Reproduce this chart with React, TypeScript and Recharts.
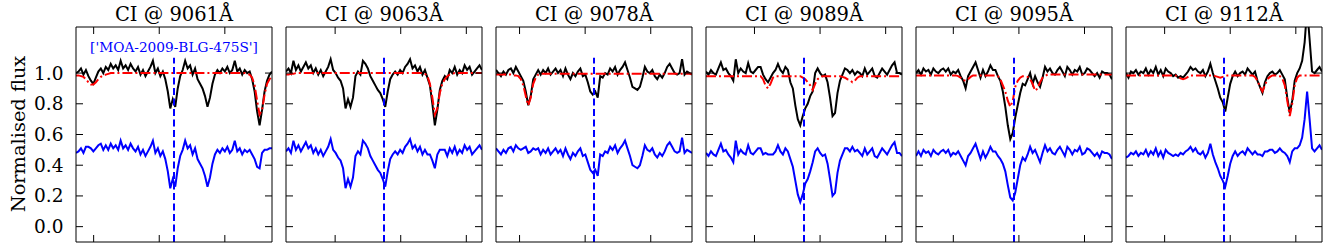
import { LineChart, Line, XAxis, YAxis, ReferenceLine } from "recharts";

// each window spans +-SPAN Angstrom around the line centre, sampled at N points
const SPAN = 2.988;
const N = 80;
const Y_DOMAIN: [number, number] = [-0.1, 1.3];
const Y_TICKS = [0, 0.2, 0.4, 0.6, 0.8, 1.0];

const titles = ["CI @ 9061Å", "CI @ 9063Å", "CI @ 9078Å", "CI @ 9089Å", "CI @ 9095Å", "CI @ 9112Å"];
const starName = "['MOA-2009-BLG-475S']";

// unlabelled wavelength ticks (offset from line centre, Angstrom)
const ticks9061 = [-2.45, -0.45, 1.55];
const ticks9063 = [-1.49, 0.51, 2.51];
const ticks9078 = [-2.27, -0.27, 1.73];
const ticks9089 = [-1.51, 0.49, 2.49];
const ticks9095 = [-1.85, 0.15, 2.15];
const ticks9112 = [-1.81, 0.19, 2.19];

// observed (black), telluric model (red), corrected and offset (blue)
const obs9061 = [
  1.00, 1.01, 1.03, 0.99, 1.02, 0.98, 0.95, 0.93, 0.97, 1.01,
  1.03, 1.00, 1.04, 1.02, 1.06, 1.03, 1.05, 1.02, 1.08, 1.03,
  1.05, 1.02, 1.06, 1.03, 1.01, 1.04, 0.99, 1.02, 0.98, 1.01,
  1.04, 1.08, 1.00, 1.03, 0.98, 1.01, 0.96, 0.88, 0.77, 0.83,
  0.78, 0.90, 0.98, 1.02, 1.08, 1.03, 1.05, 0.99, 1.03, 0.96,
  0.93, 0.90, 0.85, 0.78, 0.84, 0.93, 0.99, 1.02, 1.00, 1.03,
  1.01, 1.04, 1.00, 1.02, 1.08, 1.01, 1.03, 0.99, 1.02, 1.00,
  1.01, 0.96, 0.88, 0.75, 0.66, 0.76, 0.88, 0.95, 0.99, 1.01,
];
const model9061 = [
  0.985, 0.985, 0.98, 0.975, 0.96, 0.94, 0.925, 0.925, 0.94, 0.96,
  0.975, 0.985, 0.99, 0.995, 1, 1, 1, 1, 1, 1,
  1, 1, 1, 1, 1, 1, 1, 1, 1, 1,
  1, 1, 1, 1, 1, 1, 1, 1, 1, 1,
  1, 1, 1, 1, 1, 1, 1, 1, 1, 1,
  1, 1, 1, 1, 1, 1, 1, 1, 1, 1,
  1, 1, 1, 1, 1, 1, 1, 1, 1, 0.995,
  0.99, 0.97, 0.92, 0.82, 0.73, 0.76, 0.86, 0.93, 0.96, 0.98,
];
const corr9061 = [
  0.48, 0.49, 0.51, 0.48, 0.52, 0.52, 0.51, 0.49, 0.51, 0.53,
  0.54, 0.50, 0.53, 0.50, 0.54, 0.51, 0.53, 0.50, 0.56, 0.51,
  0.53, 0.50, 0.54, 0.51, 0.49, 0.52, 0.47, 0.50, 0.46, 0.49,
  0.52, 0.56, 0.48, 0.51, 0.46, 0.49, 0.44, 0.36, 0.25, 0.31,
  0.26, 0.38, 0.46, 0.50, 0.56, 0.51, 0.53, 0.47, 0.51, 0.44,
  0.41, 0.38, 0.33, 0.26, 0.32, 0.41, 0.47, 0.50, 0.48, 0.51,
  0.49, 0.52, 0.48, 0.50, 0.56, 0.49, 0.51, 0.47, 0.50, 0.485,
  0.50, 0.47, 0.44, 0.39, 0.38, 0.48, 0.50, 0.50, 0.51, 0.51,
];

const obs9063 = [
  1.01, 1.03, 1.00, 1.08, 1.02, 1.05, 1.01, 1.04, 1.07, 1.03,
  1.05, 1.00, 1.03, 0.99, 1.02, 0.98, 1.01, 1.04, 1.09, 1.02,
  1.00, 0.97, 0.95, 0.90, 0.77, 0.83, 0.78, 0.84, 0.98, 1.01,
  0.99, 1.08, 1.06, 1.03, 0.98, 0.95, 0.92, 0.89, 0.87, 0.83,
  0.78, 0.88, 0.96, 0.99, 1.01, 0.99, 1.02, 1.00, 1.04, 1.06,
  1.09, 1.03, 1.05, 1.01, 1.04, 0.99, 1.02, 0.97, 0.92, 0.80,
  0.66, 0.76, 0.89, 0.95, 0.98, 0.96, 1.02, 1.00, 1.04, 0.99,
  1.02, 1.00, 1.05, 1.02, 1.04, 0.99, 1.01, 1.03, 1.05, 1.02,
];
const model9063 = [
  0.99, 0.99, 0.995, 0.995, 1, 1, 1, 1, 1, 1,
  1, 1, 1, 1, 1, 1, 1, 1, 1, 1,
  1, 1, 1, 1, 1, 1, 1, 1, 1, 1,
  1, 1, 1, 1, 1, 1, 1, 1, 1, 1,
  1, 1, 1, 1, 1, 1, 1, 1, 1, 1,
  1, 1, 1, 1, 1, 1, 0.995, 0.98, 0.93, 0.84,
  0.73, 0.77, 0.87, 0.93, 0.96, 0.98, 0.99, 0.995, 1, 1,
  1, 1, 1, 1, 1, 1, 1, 1, 1, 1,
];
const corr9063 = [
  0.49, 0.51, 0.48, 0.56, 0.50, 0.53, 0.49, 0.52, 0.55, 0.51,
  0.53, 0.48, 0.51, 0.47, 0.50, 0.46, 0.49, 0.52, 0.57, 0.50,
  0.48, 0.45, 0.43, 0.38, 0.25, 0.31, 0.26, 0.32, 0.46, 0.49,
  0.47, 0.56, 0.54, 0.51, 0.46, 0.43, 0.40, 0.37, 0.35, 0.31,
  0.26, 0.36, 0.44, 0.47, 0.49, 0.47, 0.50, 0.48, 0.52, 0.54,
  0.57, 0.51, 0.53, 0.49, 0.52, 0.47, 0.50, 0.47, 0.47, 0.43,
  0.38, 0.47, 0.50, 0.50, 0.50, 0.46, 0.51, 0.48, 0.52, 0.47,
  0.50, 0.48, 0.53, 0.50, 0.52, 0.47, 0.49, 0.51, 0.53, 0.50,
];

const obs9078 = [
  1.02, 1.00, 0.98, 1.01, 0.99, 1.02, 1.03, 1.00, 1.04, 1.01,
  0.98, 0.95, 0.88, 0.79, 0.85, 0.96, 0.99, 1.02, 0.99, 1.02,
  1.00, 1.03, 0.99, 1.01, 1.03, 1.00, 1.02, 0.98, 1.03, 0.99,
  0.96, 1.00, 0.98, 1.01, 1.03, 0.98, 0.99, 0.94, 0.88, 0.86,
  0.88, 0.84, 0.98, 0.97, 1.00, 0.99, 1.03, 1.01, 1.04, 0.99,
  1.02, 1.04, 1.07, 1.02, 0.97, 0.91, 0.90, 0.89, 0.91, 0.97,
  1.04, 1.01, 1.00, 1.02, 0.98, 0.96, 0.99, 0.97, 1.00, 1.04,
  1.06, 1.03, 1.00, 0.99, 1.00, 1.09, 0.99, 1.01, 1.00, 0.99,
];
const model9078 = [
  0.99, 0.99, 0.99, 0.99, 0.99, 0.99, 0.99, 0.985, 0.985, 0.98,
  0.96, 0.92, 0.85, 0.79, 0.84, 0.93, 0.97, 0.99, 0.995, 0.995,
  0.995, 0.995, 0.995, 0.995, 0.995, 0.995, 0.995, 0.995, 0.995, 0.995,
  0.995, 0.995, 0.995, 0.995, 0.995, 0.995, 0.995, 0.995, 0.995, 0.995,
  0.995, 0.995, 0.995, 0.995, 0.995, 0.995, 0.995, 0.995, 0.995, 0.995,
  0.995, 0.995, 0.995, 0.995, 0.995, 0.995, 0.995, 0.995, 0.995, 0.995,
  0.995, 0.995, 0.995, 0.995, 0.995, 0.995, 0.995, 0.995, 0.995, 0.995,
  0.995, 0.995, 0.995, 0.995, 0.995, 0.995, 0.995, 0.995, 0.995, 0.995,
];
const corr9078 = [
  0.51, 0.49, 0.47, 0.50, 0.48, 0.51, 0.52, 0.49, 0.53, 0.51,
  0.50, 0.51, 0.52, 0.48, 0.49, 0.51, 0.50, 0.51, 0.47, 0.50,
  0.48, 0.51, 0.47, 0.49, 0.51, 0.48, 0.50, 0.46, 0.51, 0.47,
  0.44, 0.48, 0.46, 0.49, 0.51, 0.46, 0.47, 0.42, 0.37, 0.35,
  0.37, 0.33, 0.47, 0.46, 0.49, 0.48, 0.52, 0.50, 0.53, 0.48,
  0.51, 0.53, 0.56, 0.51, 0.46, 0.40, 0.39, 0.38, 0.40, 0.46,
  0.53, 0.50, 0.49, 0.51, 0.47, 0.45, 0.48, 0.46, 0.49, 0.53,
  0.55, 0.52, 0.49, 0.48, 0.49, 0.58, 0.48, 0.50, 0.49, 0.48,
];

const obs9089 = [
  1.01, 0.99, 1.02, 1.00, 0.99, 1.03, 1.07, 1.02, 1.03, 1.00,
  0.98, 0.95, 1.09, 1.00, 1.03, 1.01, 1.00, 1.065, 1.01, 1.00,
  1.02, 1.04, 1.04, 0.99, 0.96, 0.94, 0.97, 1.00, 1.02, 1.06,
  1.02, 1.00, 1.04, 1.02, 0.94, 0.90, 0.79, 0.70, 0.66, 0.72,
  0.77, 0.80, 0.85, 0.88, 1.00, 1.03, 1.00, 0.98, 0.99, 0.94,
  0.84, 0.72, 0.74, 0.87, 0.95, 0.99, 1.03, 1.02, 1.00, 1.02,
  0.99, 1.01, 1.00, 0.98, 1.03, 0.99, 1.01, 1.03, 0.98, 0.97,
  1.00, 1.03, 1.01, 0.99, 1.02, 1.05, 1.07, 1.00, 1.00, 0.99,
];
const model9089 = [
  0.98, 0.98, 0.98, 0.98, 0.98, 0.98, 0.98, 0.98, 0.98, 0.98,
  0.98, 0.98, 0.98, 0.98, 0.98, 0.98, 0.98, 0.98, 0.98, 0.98,
  0.98, 0.98, 0.98, 0.96, 0.92, 0.90, 0.93, 0.97, 0.98, 0.98,
  0.98, 0.98, 0.98, 0.98, 0.98, 0.98, 0.98, 0.98, 0.98, 0.97,
  0.96, 0.94, 0.92, 0.89, 0.93, 0.96, 0.975, 0.98, 0.98, 0.98,
  0.98, 0.98, 0.98, 0.98, 0.98, 0.975, 0.97, 0.96, 0.955, 0.94,
  0.95, 0.97, 0.98, 0.98, 0.98, 0.98, 0.98, 0.98, 0.98, 0.98,
  0.98, 0.98, 0.98, 0.98, 0.98, 0.98, 0.98, 0.98, 0.98, 0.98,
];
const corr9089 = [
  0.48, 0.46, 0.49, 0.47, 0.46, 0.50, 0.54, 0.49, 0.50, 0.47,
  0.45, 0.42, 0.56, 0.47, 0.50, 0.48, 0.47, 0.53, 0.48, 0.47,
  0.49, 0.51, 0.51, 0.47, 0.48, 0.47, 0.47, 0.47, 0.49, 0.53,
  0.49, 0.47, 0.51, 0.49, 0.44, 0.39, 0.30, 0.21, 0.16, 0.21,
  0.28, 0.31, 0.36, 0.42, 0.49, 0.51, 0.48, 0.46, 0.47, 0.41,
  0.31, 0.20, 0.22, 0.35, 0.43, 0.47, 0.51, 0.51, 0.49, 0.52,
  0.49, 0.50, 0.48, 0.46, 0.51, 0.47, 0.49, 0.51, 0.46, 0.45,
  0.48, 0.51, 0.49, 0.47, 0.50, 0.53, 0.55, 0.48, 0.48, 0.46,
];

const obs9095 = [
  1.00, 1.02, 0.99, 1.03, 1.01, 1.02, 0.99, 1.03, 1.01, 1.00,
  1.02, 1.03, 1.01, 1.03, 0.99, 1.01, 1.00, 1.02, 0.98, 0.95,
  0.90, 0.98, 1.01, 1.04, 1.07, 1.02, 0.97, 1.02, 0.98, 1.01,
  1.05, 1.02, 1.02, 0.98, 0.95, 0.88, 0.78, 0.66, 0.57, 0.61,
  0.71, 0.79, 0.87, 0.93, 0.92, 0.96, 1.00, 0.93, 0.98, 0.94,
  0.91, 0.97, 1.04, 1.01, 1.03, 1.00, 0.99, 1.02, 1.04, 1.01,
  0.98, 1.04, 1.02, 0.99, 1.02, 1.01, 1.04, 0.99, 1.00, 1.03,
  1.02, 1.00, 0.98, 1.00, 0.97, 1.01, 1.00, 1.00, 0.99, 0.96,
];
const model9095 = [
  0.985, 0.985, 0.985, 0.985, 0.985, 0.985, 0.985, 0.985, 0.985, 0.985,
  0.985, 0.985, 0.985, 0.985, 0.985, 0.985, 0.985, 0.98, 0.97, 0.955,
  0.95, 0.96, 0.975, 0.985, 0.985, 0.985, 0.985, 0.985, 0.985, 0.985,
  0.985, 0.985, 0.985, 0.98, 0.96, 0.92, 0.88, 0.82, 0.78, 0.82,
  0.91, 0.95, 0.97, 0.98, 0.98, 0.975, 0.96, 0.93, 0.885, 0.90,
  0.94, 0.97, 0.98, 0.99, 0.99, 0.99, 0.99, 0.99, 0.99, 0.99,
  0.99, 0.99, 0.99, 0.99, 0.99, 0.99, 0.99, 0.99, 0.99, 0.99,
  0.99, 0.99, 0.99, 0.99, 0.99, 0.99, 0.99, 0.99, 0.99, 0.99,
];
const corr9095 = [
  0.46, 0.49, 0.46, 0.50, 0.48, 0.49, 0.46, 0.50, 0.48, 0.47,
  0.49, 0.50, 0.48, 0.50, 0.46, 0.48, 0.47, 0.49, 0.46, 0.43,
  0.40, 0.46, 0.48, 0.51, 0.54, 0.49, 0.44, 0.49, 0.45, 0.48,
  0.52, 0.49, 0.49, 0.46, 0.44, 0.41, 0.36, 0.27, 0.19, 0.17,
  0.22, 0.31, 0.40, 0.45, 0.43, 0.47, 0.52, 0.48, 0.50, 0.46,
  0.42, 0.48, 0.53, 0.49, 0.51, 0.48, 0.47, 0.50, 0.52, 0.49,
  0.46, 0.52, 0.50, 0.47, 0.50, 0.49, 0.52, 0.47, 0.48, 0.51,
  0.50, 0.48, 0.46, 0.48, 0.45, 0.49, 0.48, 0.48, 0.47, 0.44,
];

const obs9112 = [
  1.00, 0.97, 1.01, 1.00, 1.02, 0.99, 1.01, 1.00, 1.03, 0.99,
  1.02, 1.00, 1.04, 0.99, 1.02, 0.98, 1.03, 1.01, 1.00, 0.98,
  0.99, 0.97, 0.98, 0.97, 0.99, 1.01, 1.04, 1.02, 1.03, 1.01,
  1.00, 1.02, 0.98, 1.01, 1.06, 1.00, 0.95, 0.90, 0.84, 0.81,
  0.75, 0.84, 0.93, 0.98, 1.01, 0.98, 1.00, 1.01, 0.99, 1.03,
  1.01, 0.99, 1.01, 0.95, 0.91, 0.87, 0.94, 0.98, 1.00, 1.01,
  0.99, 1.00, 1.02, 0.99, 0.96, 0.84, 0.74, 0.82, 0.95, 1.00,
  1.03, 1.08, 1.20, 1.42, 1.22, 1.01, 1.00, 1.02, 1.04, 1.01,
];
const model9112 = [
  0.985, 0.985, 0.985, 0.985, 0.985, 0.985, 0.985, 0.985, 0.985, 0.985,
  0.985, 0.985, 0.985, 0.985, 0.985, 0.985, 0.985, 0.985, 0.985, 0.985,
  0.985, 0.975, 0.965, 0.96, 0.965, 0.975, 0.985, 0.985, 0.985, 0.985,
  0.985, 0.985, 0.985, 0.985, 0.985, 0.985, 0.98, 0.975, 0.97, 0.975,
  0.98, 0.985, 0.985, 0.985, 0.985, 0.985, 0.985, 0.985, 0.985, 0.985,
  0.985, 0.985, 0.975, 0.95, 0.91, 0.88, 0.92, 0.96, 0.975, 0.985,
  0.985, 0.985, 0.98, 0.965, 0.92, 0.82, 0.72, 0.80, 0.92, 0.97,
  0.985, 0.985, 0.985, 0.985, 0.985, 0.985, 0.985, 0.985, 0.985, 0.985,
];
const corr9112 = [
  0.45, 0.46, 0.48, 0.47, 0.49, 0.46, 0.48, 0.47, 0.50, 0.46,
  0.49, 0.47, 0.51, 0.46, 0.49, 0.45, 0.50, 0.48, 0.47, 0.46,
  0.47, 0.46, 0.48, 0.47, 0.49, 0.50, 0.52, 0.49, 0.51, 0.48,
  0.47, 0.49, 0.45, 0.48, 0.54, 0.47, 0.42, 0.38, 0.33, 0.30,
  0.26, 0.33, 0.41, 0.46, 0.49, 0.46, 0.48, 0.49, 0.47, 0.51,
  0.49, 0.47, 0.49, 0.47, 0.47, 0.46, 0.49, 0.49, 0.50, 0.50,
  0.48, 0.49, 0.51, 0.49, 0.48, 0.46, 0.42, 0.49, 0.51, 0.51,
  0.53, 0.58, 0.70, 0.88, 0.70, 0.51, 0.49, 0.51, 0.53, 0.50,
];

const panels = [
  { title: titles[0], ticks: ticks9061, obs: obs9061, model: model9061, corr: corr9061 },
  { title: titles[1], ticks: ticks9063, obs: obs9063, model: model9063, corr: corr9063 },
  { title: titles[2], ticks: ticks9078, obs: obs9078, model: model9078, corr: corr9078 },
  { title: titles[3], ticks: ticks9089, obs: obs9089, model: model9089, corr: corr9089 },
  { title: titles[4], ticks: ticks9095, obs: obs9095, model: model9095, corr: corr9095 },
  { title: titles[5], ticks: ticks9112, obs: obs9112, model: model9112, corr: corr9112 },
];

const FONT = "'DejaVu Serif', serif";
const PLOT_W = 196;
const PLOT_TOP = 27;
const PLOT_BOTTOM = 242;
const PANEL_LEFT = [76, 286, 496, 706, 916, 1126];
const TICK_LEN = 7;

function Panel({ idx }: { idx: number }) {
  const p = panels[idx];
  const first = idx === 0;
  const yAxisW = first ? 74 : 2;
  const plotLeft = 2 + yAxisW;
  const plotRight = plotLeft + PLOT_W;
  const width = yAxisW + PLOT_W + 6;
  const rows = p.obs.map((v, i) => ({
    x: -SPAN + (2 * SPAN * i) / (N - 1),
    obs: v,
    model: p.model[i],
    corr: p.corr[i],
  }));

  const bottomTick = (props: any) => (
    <line x1={props.x} x2={props.x} y1={PLOT_BOTTOM} y2={PLOT_BOTTOM - TICK_LEN} stroke="#000" strokeWidth={1} />
  );
  const topTick = (props: any) => (
    <line x1={props.x} x2={props.x} y1={PLOT_TOP} y2={PLOT_TOP + TICK_LEN} stroke="#000" strokeWidth={1} />
  );
  const leftTick = (props: any) => (
    <g>
      <line x1={plotLeft} x2={plotLeft + TICK_LEN} y1={props.y} y2={props.y} stroke="#000" strokeWidth={1} />
      {first && (
        <text x={plotLeft - 12.5} y={props.y} textAnchor="end" dominantBaseline="central" fontFamily={FONT} fontSize={18.5} fill="#000">
          {Number(props.payload.value).toFixed(1)}
        </text>
      )}
    </g>
  );
  const rightTick = (props: any) => (
    <line x1={plotRight - TICK_LEN} x2={plotRight} y1={props.y} y2={props.y} stroke="#000" strokeWidth={1} />
  );

  return (
    <div style={{ position: "absolute", left: PANEL_LEFT[idx] - plotLeft, top: 0 }}>
      <LineChart width={width} height={250} data={rows} margin={{ top: PLOT_TOP - 2, right: 2, bottom: 250 - PLOT_BOTTOM - 2, left: 2 }}>
        <XAxis xAxisId="b" dataKey="x" type="number" domain={[-SPAN, SPAN]} allowDataOverflow ticks={p.ticks} interval={0}
          orientation="bottom" height={2} tickSize={0} tickMargin={0} tickLine={false} axisLine={{ stroke: "#000", strokeWidth: 1 }} tick={bottomTick} />
        <XAxis xAxisId="t" dataKey="x" type="number" domain={[-SPAN, SPAN]} allowDataOverflow ticks={p.ticks} interval={0}
          orientation="top" height={2} tickSize={0} tickMargin={0} tickLine={false} axisLine={{ stroke: "#000", strokeWidth: 1 }} tick={topTick} />
        <YAxis yAxisId="l" type="number" domain={Y_DOMAIN} allowDataOverflow ticks={Y_TICKS} interval={0}
          width={yAxisW} tickSize={0} tickMargin={0} tickLine={false} axisLine={{ stroke: "#000", strokeWidth: 1 }} tick={leftTick} />
        <YAxis yAxisId="r" orientation="right" type="number" domain={Y_DOMAIN} allowDataOverflow ticks={Y_TICKS} interval={0}
          width={2} tickSize={0} tickMargin={0} tickLine={false} axisLine={{ stroke: "#000", strokeWidth: 1 }} tick={rightTick} />
        <Line xAxisId="b" yAxisId="l" dataKey="obs" type="linear" stroke="#000000" strokeWidth={2} dot={false} isAnimationActive={false} />
        <Line xAxisId="b" yAxisId="l" dataKey="model" type="linear" stroke="#ff0000" strokeWidth={2} strokeDasharray="10 3 2 3" dot={false} isAnimationActive={false} />
        <Line xAxisId="b" yAxisId="l" dataKey="corr" type="linear" stroke="#0000ff" strokeWidth={2} dot={false} isAnimationActive={false} />
        <ReferenceLine xAxisId="b" yAxisId="l" segment={[{ x: 0, y: -0.1 }, { x: 0, y: 1.1 }]} stroke="#0000ff" strokeWidth={2} strokeDasharray="7 3.5" ifOverflow="visible" />
      </LineChart>
    </div>
  );
}

export default function App() {
  return (
    <div style={{ position: "absolute", left: 0, top: 0, width: 1329, height: 250, background: "#fff", overflow: "hidden" }}>
      {panels.map((_, i) => (
        <Panel key={i} idx={i} />
      ))}
      <svg width={1329} height={250} style={{ position: "absolute", left: 0, top: 0, pointerEvents: "none" }}>
        {panels.map((p, i) => (
          <text key={i} x={PANEL_LEFT[i] + PLOT_W / 2} y={20.5} textAnchor="middle" fontFamily={FONT} fontSize={19.5} fill="#000">
            {p.title}
          </text>
        ))}
        <text x={PANEL_LEFT[0] + PLOT_W / 2} y={52} textAnchor="middle" fontFamily={FONT} fontSize={13.7} fill="#0000ff">
          {starName}
        </text>
        <text transform="translate(25,134) rotate(-90)" textAnchor="middle" fontFamily={FONT} fontSize={19.4} fill="#000">
          Normalised flux
        </text>
      </svg>
    </div>
  );
}
